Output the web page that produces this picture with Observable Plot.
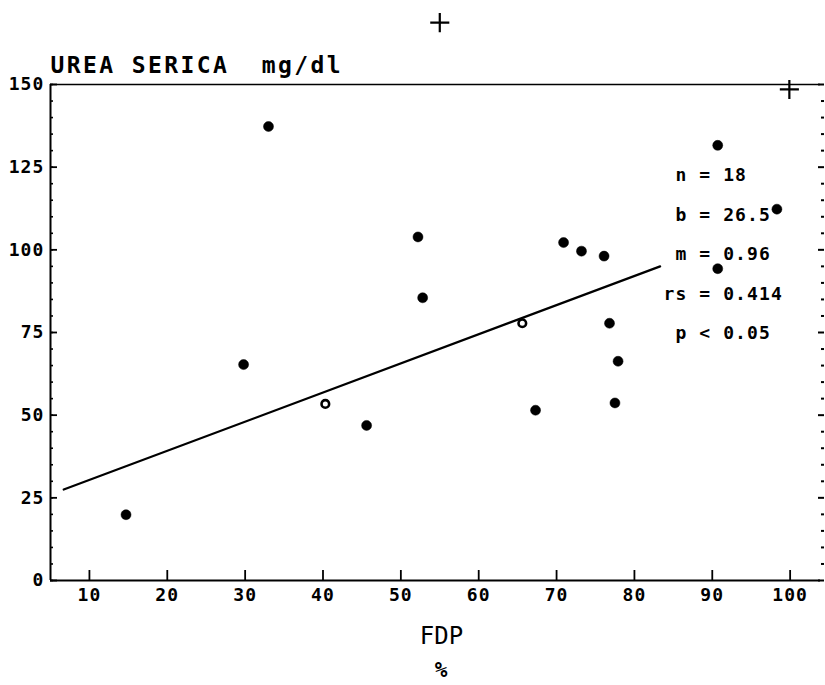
<!DOCTYPE html>
<html>
<head>
<meta charset="utf-8">
<script src="https://cdn.jsdelivr.net/npm/d3@7"></script>
<script src="https://cdn.jsdelivr.net/npm/@observablehq/plot@0.6"></script>
<style>
  body { margin: 0; background: #fff; }
  #chart svg text { letter-spacing: 1.1px; white-space: pre; font-weight: bold; }
</style>
</head>
<body>
<div id="chart"></div>
<script>
// ---- data ----
const fdp  = [14.7, 29.8, 33.0, 40.3, 45.6, 52.2, 52.8, 65.6, 67.3, 70.9, 73.2, 76.1, 76.8, 77.9, 77.5, 90.7, 98.3, 90.7];
const urea = [19.9, 65.3, 137.3, 53.4, 46.9, 103.9, 85.5, 77.8, 51.5, 102.2, 99.6, 98.1, 77.8, 66.3, 53.7, 131.6, 112.3, 94.3];
const pointKind = ["solid", "solid", "solid", "open", "solid", "solid", "solid", "open", "solid",
                   "solid", "solid", "solid", "solid", "solid", "solid", "solid", "solid", "solid"];
const fitX = [6.7, 83.3];
const fitY = [27.5, 95.0];
const crossX = [55.0, 99.9];
const crossY = [168.7, 148.5];
const xDomain = [5, 103.9];
const yDomain = [0, 150];
const xTicks = [10, 20, 30, 40, 50, 60, 70, 80, 90, 100];
const yTicks = [0, 25, 50, 75, 100, 125, 150];
const yMinorTicks = [0, 5, 10, 15, 20, 25, 30, 35, 40, 45, 50, 55, 60, 65, 70, 75, 80, 85, 90, 95, 100,
                     105, 110, 115, 120, 125, 130, 135, 140, 145, 150];
const statNames = ["n", "b", "m", "rs", "p"];
const statOps = ["=", "=", "=", "=", "<"];
const statValues = ["18", "26.5", "0.96", "0.414", "0.05"];
const titleText = "UREA SERICA  mg/dl";
const xLabel = "FDP";
const xUnit = "%";

// ---- tables built from the arrays ----
const points = fdp.map((x, i) => ({x, y: urea[i], kind: pointKind[i]}));
const fit = fitX.map((x, i) => ({x, y: fitY[i]}));
const crosses = crossX.map((x, i) => ({x, y: crossY[i]}));
const statBlock = statNames.map((n, i) => n.padStart(2) + " " + statOps[i] + " " + statValues[i]).join("\n");
const blank = () => "";

const chart = Plot.plot({
  width: 825,
  height: 685,
  marginLeft: 50,
  marginRight: 5,
  marginTop: 84,
  marginBottom: 105,
  style: {fontFamily: "DejaVu Sans Mono", fontSize: "18px", color: "#000", background: "#fff"},
  x: {domain: xDomain, label: null},
  y: {domain: yDomain, label: null},
  marks: [
    // frame lines
    Plot.ruleX([xDomain[0]], {strokeWidth: 2}),
    Plot.ruleY([yDomain[0]], {strokeWidth: 2}),
    Plot.ruleY([yDomain[1]], {strokeWidth: 1.6}),
    // left axis ticks (inward) + labels
    Plot.axisY({ticks: yMinorTicks, tickSize: -3, tickFormat: blank, label: null, strokeWidth: 1.6}),
    Plot.axisY({ticks: yTicks, tickSize: -7, tickFormat: blank, label: null, strokeWidth: 1.8}),
    Plot.axisY({ticks: yTicks, tickSize: 0, tickPadding: 6, label: null, fontSize: 18}),
    // right dotted edge
    Plot.axisY({anchor: "right", ticks: yMinorTicks, tickSize: 3, tickFormat: blank, label: null, strokeWidth: 2}),
    Plot.axisY({anchor: "right", ticks: yTicks, tickSize: -3, tickFormat: blank, label: null, strokeWidth: 2}),
    // bottom axis ticks (inward) + labels
    Plot.axisX({ticks: xTicks, tickSize: -10, tickFormat: blank, label: null, strokeWidth: 1.8}),
    Plot.axisX({ticks: xTicks, tickSize: 0, tickPadding: 8, label: null, fontSize: 18}),
    // regression line
    Plot.line(fit, {x: "x", y: "y", strokeWidth: 2.2}),
    // points
    Plot.dot(points.filter(d => d.kind === "solid"), {x: "x", y: "y", r: 5, fill: "#000", stroke: "#000", strokeWidth: 0.5}),
    Plot.dot(points.filter(d => d.kind === "open"), {x: "x", y: "y", r: 3.8, fill: "#fff", stroke: "#000", strokeWidth: 2.6}),
    // registration crosses
    Plot.dot(crosses, {x: "x", y: "y", symbol: "plus", r: 6.2, stroke: "#000", strokeWidth: 2.2}),
    // title
    Plot.text([titleText], {frameAnchor: "top-left", dy: -12, lineAnchor: "bottom", textAnchor: "start", fontSize: 23}),
    // statistics block
    Plot.text([statBlock], {frameAnchor: "top-left", dx: 613, dy: 69, lineAnchor: "top", textAnchor: "start", lineHeight: 2.19, fontSize: 18}),
    // x label and unit
    Plot.text([xLabel], {frameAnchor: "bottom", dx: 6, dy: 46, lineAnchor: "top", fontSize: 24}),
    Plot.text([xUnit], {frameAnchor: "bottom", dx: 6, dy: 82, lineAnchor: "top", fontSize: 21})
  ]
});

d3.select(chart).selectAll("text")
  .filter(function () { return this.textContent === titleText; })
  .style("letter-spacing", "2.4px");
d3.select(chart).selectAll("text")
  .filter(function () { return this.textContent === xLabel; })
  .style("letter-spacing", "0px")
  .style("font-weight", "normal");

document.getElementById("chart").appendChild(chart);
</script>
</body>
</html>
